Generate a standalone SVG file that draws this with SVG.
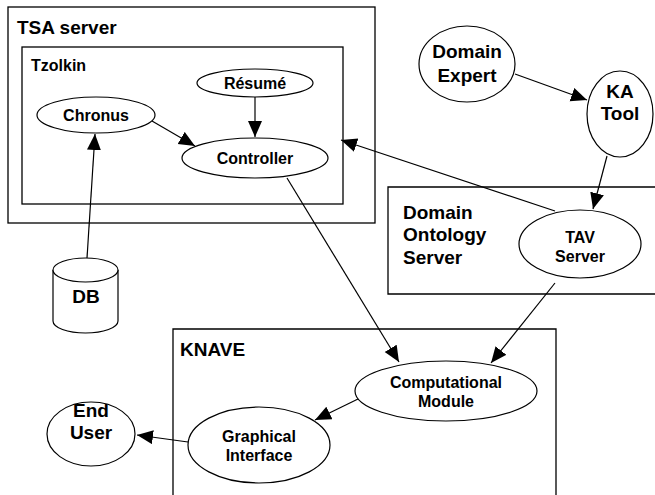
<svg xmlns="http://www.w3.org/2000/svg" width="655" height="495" viewBox="0 0 655 495">
  <style>
    .box { fill: none; stroke: #000; stroke-width: 1.3; }
    .node { fill: #fff; stroke: #000; stroke-width: 1.2; }
    .edge { fill: none; stroke: #000; stroke-width: 1.2; marker-end: url(#arrow); }
    text { font-family: "Liberation Sans", Arial, sans-serif; font-weight: bold; fill: #000; }
    .big { font-size: 19px; }
    .small { font-size: 16px; }
    .mid { text-anchor: middle; }
  </style>
  <defs>
    <marker id="arrow" markerUnits="userSpaceOnUse" markerWidth="17" markerHeight="15" refX="16" refY="7" orient="auto">
      <path d="M0,0 L16,7 L0,14 z" fill="#000"/>
    </marker>
  </defs>

  <rect width="655" height="495" fill="#fff"/>

  <!-- container boxes -->
  <g id="tsa-server">
    <rect class="box" x="8" y="7" width="367" height="216"/>
    <text class="big" x="17" y="34">TSA server</text>
  </g>
  <g id="tzolkin">
    <rect class="box" x="22" y="47" width="321" height="157"/>
    <text class="small" x="31" y="71">Tzolkin</text>
  </g>
  <g id="domain-ontology-server">
    <path class="box" d="M660,187 H388 V294 H660"/>
    <text class="big" x="403" y="219">Domain</text>
    <text class="big" x="403" y="241">Ontology</text>
    <text class="big" x="403" y="264">Server</text>
  </g>
  <g id="knave">
    <path class="box" d="M173,500 V329 H556 V500"/>
    <text class="big" x="180" y="356">KNAVE</text>
  </g>

  <!-- connectors -->
  <g id="connectors">
    <line class="edge" x1="152" y1="121" x2="195" y2="146"/>
    <line class="edge" x1="255" y1="97" x2="255" y2="137"/>
    <line class="edge" x1="87" y1="258" x2="95" y2="134"/>
    <line class="edge" x1="555" y1="211" x2="341" y2="140"/>
    <line class="edge" x1="287" y1="178" x2="399" y2="362"/>
    <line class="edge" x1="555" y1="283" x2="491" y2="363"/>
    <line class="edge" x1="515" y1="74" x2="587" y2="100"/>
    <line class="edge" x1="607" y1="156" x2="593" y2="209"/>
    <line class="edge" x1="358" y1="399" x2="315" y2="420"/>
    <line class="edge" x1="188" y1="442" x2="137" y2="435"/>
  </g>

  <!-- nodes -->
  <g id="resume">
    <ellipse class="node" cx="255" cy="83" rx="58" ry="14"/>
    <text class="small mid" x="255" y="89">Résumé</text>
  </g>
  <g id="chronus">
    <ellipse class="node" cx="96" cy="115" rx="59" ry="18"/>
    <text class="small mid" x="96" y="121">Chronus</text>
  </g>
  <g id="controller">
    <ellipse class="node" cx="255" cy="158" rx="73" ry="20"/>
    <text class="small mid" x="255" y="164">Controller</text>
  </g>
  <g id="db">
    <path class="node" d="M53,270 V321 A32.5,12 0 0 0 118,321 V270 A32.5,12 0 0 0 53,270 Z"/>
    <path class="node" d="M53,270 A32.5,12 0 0 0 118,270" fill="none"/>
    <text class="big mid" x="86" y="303">DB</text>
  </g>
  <g id="domain-expert">
    <ellipse class="node" cx="467" cy="64" rx="48" ry="38"/>
    <text class="big mid" x="467" y="58">Domain</text>
    <text class="big mid" x="467" y="82">Expert</text>
  </g>
  <g id="ka-tool">
    <ellipse class="node" cx="620" cy="114" rx="33" ry="43"/>
    <text class="big mid" x="620" y="98">KA</text>
    <text class="big mid" x="620" y="120">Tool</text>
  </g>
  <g id="tav-server">
    <ellipse class="node" cx="580" cy="244" rx="61" ry="34"/>
    <text class="small mid" x="580" y="243">TAV</text>
    <text class="small mid" x="580" y="262">Server</text>
  </g>
  <g id="computational-module">
    <ellipse class="node" cx="446" cy="391" rx="91" ry="30"/>
    <text class="small mid" x="446" y="388">Computational</text>
    <text class="small mid" x="446" y="407">Module</text>
  </g>
  <g id="graphical-interface">
    <ellipse class="node" cx="259" cy="445" rx="71" ry="38"/>
    <text class="small mid" x="259" y="442">Graphical</text>
    <text class="small mid" x="259" y="461">Interface</text>
  </g>
  <g id="end-user">
    <ellipse class="node" cx="91" cy="434" rx="44" ry="32"/>
    <text class="big mid" x="91" y="417">End</text>
    <text class="big mid" x="91" y="439">User</text>
  </g>
</svg>
